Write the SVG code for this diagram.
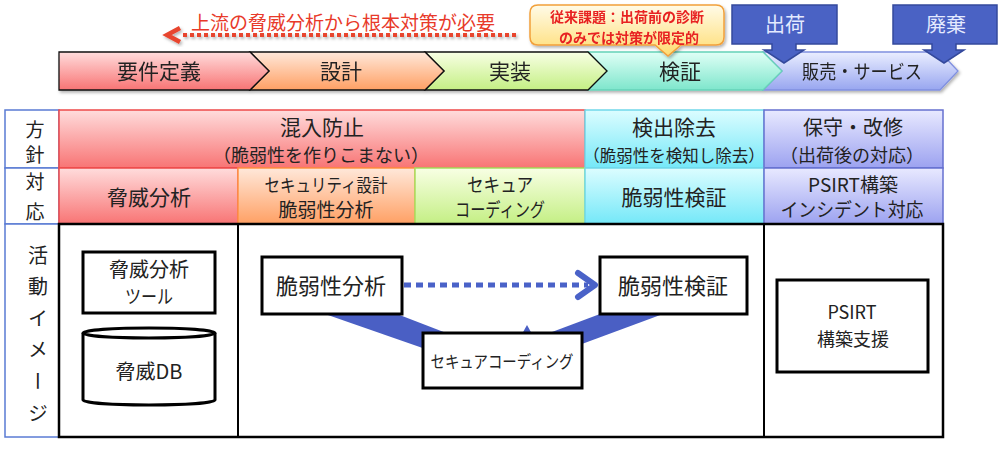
<svg xmlns="http://www.w3.org/2000/svg" width="1000" height="452" viewBox="0 0 1000 452">
<defs>
<linearGradient id="gRed" x1="0" y1="0" x2="0" y2="1"><stop offset="0" stop-color="#ffdcdc"/><stop offset="1" stop-color="#f87474"/></linearGradient>
<linearGradient id="gOrange" x1="0" y1="0" x2="0" y2="1"><stop offset="0" stop-color="#ffe8da"/><stop offset="1" stop-color="#ffa064"/></linearGradient>
<linearGradient id="gGreen" x1="0" y1="0" x2="0" y2="1"><stop offset="0" stop-color="#f8ffe4"/><stop offset="1" stop-color="#c4ef84"/></linearGradient>
<linearGradient id="gTeal" x1="0" y1="0" x2="0" y2="1"><stop offset="0" stop-color="#e0fff6"/><stop offset="1" stop-color="#7ee6cc"/></linearGradient>
<linearGradient id="gBlue" x1="0" y1="0" x2="0" y2="1"><stop offset="0" stop-color="#eaeeff"/><stop offset="1" stop-color="#98a6f0"/></linearGradient>
<linearGradient id="gCyan" x1="0" y1="0" x2="0" y2="1"><stop offset="0" stop-color="#dcfdff"/><stop offset="1" stop-color="#74e8f8"/></linearGradient>
<linearGradient id="gLav" x1="0" y1="0" x2="0" y2="1"><stop offset="0" stop-color="#e8e9ff"/><stop offset="1" stop-color="#9ca2f0"/></linearGradient>
<linearGradient id="gYellow" x1="0" y1="0" x2="0" y2="1"><stop offset="0" stop-color="#fffbe8"/><stop offset="1" stop-color="#ffdc70"/></linearGradient>
<filter id="sh" x="-10%" y="-10%" width="130%" height="140%"><feDropShadow dx="1.5" dy="2" stdDeviation="1.5" flood-color="#000" flood-opacity="0.3"/></filter>
</defs>
<style>
text{font-family:"Noto Sans CJK JP","Noto Sans",sans-serif;fill:#222;text-anchor:middle}
.chev{stroke-width:1.3}
.hdr{fill:#fff;stroke:#5a7bd4;stroke-width:1.5}
.cell{stroke-width:1.5}
.box{fill:#fff;stroke:#000;stroke-width:3}
.callout{fill:#4a62c4;stroke:#34499c;stroke-width:1.5}
.wt{fill:#e4eaff}
.red{fill:#e82222;font-weight:bold}
</style>
<rect width="1000" height="452" fill="#fff"/>

<!-- red upstream arrow -->
<g id="upstream">
<text x="343" y="30" font-size="19" style="fill:#e83a2a">上流の脅威分析から根本対策が必要</text>
<g filter="url(#sh)">
<line x1="183" y1="35" x2="516" y2="35" stroke="#e8452e" stroke-width="4" stroke-dasharray="4 3"/>
<polyline points="180,28 167,35 180,42" fill="none" stroke="#e8452e" stroke-width="4.5"/>
</g>
</g>

<!-- process chevrons -->
<g id="process" filter="url(#sh)">
<g id="p5"><polygon class="chev" points="763,52 940,52 958,71 940,90 763,90 782,71" fill="url(#gBlue)" stroke="#8090e0"/><text x="862" y="79" font-size="19" textLength="120" lengthAdjust="spacingAndGlyphs">販売・サービス</text></g>
<g id="p4"><polygon class="chev" points="588,52 763,52 782,71 763,90 588,90 607,71" fill="url(#gTeal)" stroke="#66d2b8"/><text x="680" y="79" font-size="21">検証</text></g>
<g id="p3"><polygon class="chev" points="425,52 588,52 607,71 588,90 425,90 444,71" fill="url(#gGreen)" stroke="#111"/><text x="510" y="79" font-size="21">実装</text></g>
<g id="p2"><polygon class="chev" points="250,52 425,52 444,71 425,90 250,90 269,71" fill="url(#gOrange)" stroke="#111"/><text x="341" y="79" font-size="21">設計</text></g>
<g id="p1"><polygon class="chev" points="59,52 250,52 269,71 250,90 59,90" fill="url(#gRed)" stroke="#111"/><text x="159" y="79" font-size="21">要件定義</text></g>
</g>

<!-- callouts -->
<g id="issue" filter="url(#sh)">
<path d="M538,5 H716 Q724,5 724,13 V37 Q724,45 716,45 H681 L668,56 L655,45 H538 Q530,45 530,37 V13 Q530,5 538,5 Z" fill="url(#gYellow)" stroke="#f2a03a" stroke-width="1.5"/>
<text class="red" x="627" y="21.5" font-size="14">従来課題：出荷前の診断</text>
<text class="red" x="629" y="42.5" font-size="14">のみでは対策が限定的</text>
</g>
<g id="ship">
<path class="callout" d="M732,5 H837 V44 H796 V50 H804 L784,63 L764,50 H772 V44 H732 Z"/>
<text class="wt" x="785" y="32" font-size="20">出荷</text>
</g>
<g id="dispose">
<path class="callout" d="M893,5 H997 V44 H956 V50 H964 L944,63 L924,50 H932 V44 H893 Z"/>
<text class="wt" x="946" y="32" font-size="20">廃棄</text>
</g>

<!-- table -->
<g id="table-headers">
<rect class="hdr" x="5" y="110" width="54" height="58"/>
<text x="35" y="137" font-size="19">方</text><text x="35" y="162" font-size="19">針</text>
<rect class="hdr" x="5" y="168" width="54" height="56"/>
<text x="35" y="189" font-size="19">対</text><text x="35" y="219" font-size="19">応</text>
<rect class="hdr" x="5" y="224" width="54" height="213"/>
<text x="38" y="245" font-size="20" style="writing-mode:vertical-rl;text-anchor:start;letter-spacing:11.6px">活動イメージ</text>
</g>

<g id="policy">
<g id="c-mix"><rect class="cell" x="59" y="110" width="526" height="58" fill="url(#gRed)" stroke="#ee4a4a"/>
<text x="322" y="135" font-size="21">混入防止</text><text x="321" y="162" font-size="18">（脆弱性を作りこまない）</text></g>
<g id="c-detect"><rect class="cell" x="585" y="110" width="179" height="58" fill="url(#gCyan)" stroke="#70d8ea"/>
<text x="674" y="135" font-size="21">検出除去</text><text x="674" y="162" font-size="16.5">（脆弱性を検知し除去）</text></g>
<g id="c-maint"><rect class="cell" x="764" y="110" width="179" height="58" fill="url(#gLav)" stroke="#6670d0"/>
<text x="853" y="135" font-size="20">保守・改修</text><text x="852" y="162" font-size="18">（出荷後の対応）</text></g>
</g>

<g id="measures">
<g id="m1"><rect class="cell" x="59" y="168" width="179" height="56" fill="url(#gRed)" stroke="#ee4a4a"/>
<text x="149" y="205" font-size="21">脅威分析</text></g>
<g id="m2"><rect class="cell" x="238" y="168" width="177" height="56" fill="url(#gOrange)" stroke="#ff9444"/>
<text x="326" y="192" font-size="18" textLength="123" lengthAdjust="spacingAndGlyphs">セキュリティ設計</text><text x="326" y="217" font-size="19">脆弱性分析</text></g>
<g id="m3"><rect class="cell" x="415" y="168" width="170" height="56" fill="url(#gGreen)" stroke="#a6e060"/>
<text x="500" y="192" font-size="19" textLength="66" lengthAdjust="spacingAndGlyphs">セキュア</text><text x="500" y="217" font-size="19" textLength="90" lengthAdjust="spacingAndGlyphs">コーディング</text></g>
<g id="m4"><rect class="cell" x="585" y="168" width="179" height="56" fill="url(#gCyan)" stroke="#70d8ea"/>
<text x="674" y="205" font-size="21">脆弱性検証</text></g>
<g id="m5"><rect class="cell" x="764" y="168" width="179" height="56" fill="url(#gLav)" stroke="#6670d0"/>
<text x="853" y="192" font-size="19">PSIRT構築</text><text x="852" y="217" font-size="19" textLength="143" lengthAdjust="spacingAndGlyphs">インシデント対応</text></g>
</g>

<g id="activity-frame">
<rect x="59" y="224" width="884" height="213" fill="#fff" stroke="#000" stroke-width="2.5"/>
<line x1="238" y1="224" x2="238" y2="437" stroke="#000" stroke-width="2"/>
<line x1="764" y1="224" x2="764" y2="437" stroke="#000" stroke-width="2"/>
</g>

<!-- connectors -->
<g id="connectors">
<polygon points="325,314 397,314 480,346 480,368" fill="#4a5fc4"/>
<polygon points="600,314 663,314 540,359.5 540,336.6" fill="#4a5fc4"/>
<polygon points="522,334 532,334 527,325" fill="#4a5fc4"/>
<line x1="404" y1="285" x2="588" y2="285" stroke="#4a62c8" stroke-width="5" stroke-dasharray="7 5"/>
<polyline points="578,273 595,285 578,297" fill="none" stroke="#4a62c8" stroke-width="6" stroke-linecap="round" stroke-linejoin="round"/>
</g>

<g id="n-tool"><rect class="box" x="83" y="252" width="132" height="61"/>
<text x="149" y="277" font-size="20">脅威分析</text><text x="149" y="304" font-size="19" textLength="48" lengthAdjust="spacingAndGlyphs">ツール</text></g>
<g id="n-db">
<path d="M83,333 V400 A66,5 0 0 0 215,400 V333" fill="#fff" stroke="#000" stroke-width="3"/>
<ellipse cx="149" cy="333" rx="66" ry="5" fill="#fff" stroke="#000" stroke-width="3"/>
<text x="149" y="379" font-size="20">脅威DB</text></g>
<g id="n-vanalysis"><rect class="box" x="262" y="257" width="140" height="57"/>
<text x="331" y="294" font-size="22">脆弱性分析</text></g>
<g id="n-vcheck"><rect class="box" x="600" y="257" width="147" height="57"/>
<text x="673" y="294" font-size="22">脆弱性検証</text></g>
<g id="n-secure"><rect class="box" x="423" y="333" width="159" height="55"/>
<text x="502" y="368" font-size="17" textLength="143" lengthAdjust="spacingAndGlyphs">セキュアコーディング</text></g>
<g id="n-psirt"><rect class="box" x="777" y="280" width="151" height="92"/>
<text x="852" y="319" font-size="18">PSIRT</text><text x="853" y="346" font-size="18">構築支援</text></g>
</svg>
